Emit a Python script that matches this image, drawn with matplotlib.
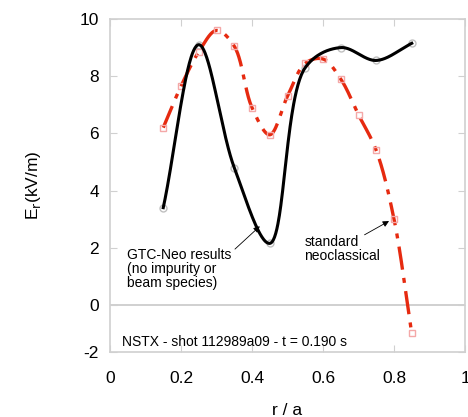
import numpy as np
import matplotlib
matplotlib.use("Agg")
import matplotlib.pyplot as plt

plt.rcParams['font.family'] = ['Liberation Sans', 'DejaVu Sans']

# Data
gtc_r = [0.15, 0.25, 0.35, 0.45, 0.55, 0.65, 0.75, 0.85]
gtc_er = [3.4, 9.1, 4.8, 2.15, 8.3, 9.0, 8.55, 9.15]
neo_r = [0.15, 0.20, 0.25, 0.30, 0.35, 0.40, 0.45, 0.50, 0.55, 0.60, 0.65, 0.70, 0.75, 0.80, 0.85]
neo_er = [6.2, 7.65, 8.85, 9.6, 9.05, 6.9, 5.95, 7.3, 8.45, 8.6, 7.9, 6.65, 5.4, 3.0, -1.0]
yticks = [-1.65, 0, 2, 4, 6, 8, 10]
ytick_labels = ['-2', '0', '2', '4', '6', '8', '10']
xticks = [0, 0.2, 0.4, 0.6, 0.8, 1.0]
xtick_labels = ['0', '0.2', '0.4', '0.6', '0.8', '1']


def smooth_path(x, y, sx=360.0, sy=28.5, n=60, alpha=0.5):
    # centripetal Catmull-Rom through the data points, in screen-like units
    P = np.column_stack([np.asarray(x, float) * sx, np.asarray(y, float) * sy])
    P = np.vstack([2 * P[0] - P[1], P, 2 * P[-1] - P[-2]])
    out = []
    for i in range(1, len(P) - 2):
        p0, p1, p2, p3 = P[i - 1], P[i], P[i + 1], P[i + 2]
        t0 = 0.0
        t1 = t0 + np.linalg.norm(p1 - p0) ** alpha
        t2 = t1 + np.linalg.norm(p2 - p1) ** alpha
        t3 = t2 + np.linalg.norm(p3 - p2) ** alpha
        t = np.linspace(t1, t2, n)[:, None]
        a1 = (t1 - t) / (t1 - t0) * p0 + (t - t0) / (t1 - t0) * p1
        a2 = (t2 - t) / (t2 - t1) * p1 + (t - t1) / (t2 - t1) * p2
        a3 = (t3 - t) / (t3 - t2) * p2 + (t - t2) / (t3 - t2) * p3
        b1 = (t2 - t) / (t2 - t0) * a1 + (t - t0) / (t2 - t0) * a2
        b2 = (t3 - t) / (t3 - t1) * a2 + (t - t1) / (t3 - t1) * a3
        c = (t2 - t) / (t2 - t1) * b1 + (t - t1) / (t2 - t1) * b2
        out.append(c if i == 1 else c[1:])
    C = np.vstack(out)
    return C[:, 0] / sx, C[:, 1] / sy


fig = plt.figure(figsize=(4.68, 4.17), dpi=100)
ax = fig.add_axes([110 / 468, 1 - 352 / 417, (465 - 110) / 468, (352 - 19) / 417])
ax.set_xlim(0, 0.987)
ax.set_ylim(-1.65, 10)

ax.axhline(0, color='#c8c8c8', lw=1.2, zorder=1)

red = '#e62a10'
xs, ys = smooth_path(neo_r, neo_er)
ax.plot(xs, ys, color=red, lw=2.4, dashes=(7, 2.5, 1.5, 2.5), zorder=3)
ax.plot(neo_r, neo_er, ls='none', marker='s', ms=5, mfc='none', mec='#f4a8a8', mew=1, zorder=4)

xs, ys = smooth_path(gtc_r, gtc_er)
ax.plot(xs, ys, color='black', lw=2.2, zorder=5)
ax.plot(gtc_r, gtc_er, ls='none', marker='o', ms=5, mfc='none', mec='#c0c0c0', mew=1, zorder=2)

for s in ax.spines.values():
    s.set_color('#d0d0d0')
    s.set_linewidth(1.2)
ax.set_xticks(xticks)
ax.set_xticklabels(xtick_labels)
ax.set_yticks(yticks)
ax.set_yticklabels(ytick_labels)
ax.tick_params(direction='in', length=5, color='#d0d0d0', labelsize=12.5,
               top=True, right=True)
ax.tick_params(axis='x', pad=14)
ax.tick_params(axis='y', pad=8)
ax.set_xlabel('r / a', fontsize=12.5, labelpad=12)
ax.set_ylabel(r'E$_\mathrm{r}$(kV/m)', fontsize=12.5, labelpad=26)

ax.text(0.047, 2.0, 'GTC-Neo results\n(no impurity or\nbeam species)', fontsize=10,
        va='top', ha='left', linespacing=1.0)
ax.annotate('', xy=(0.422, 2.75), xytext=(0.352, 1.95),
            arrowprops=dict(arrowstyle='-|>', color='black', lw=0.6, mutation_scale=9,
                            shrinkA=0, shrinkB=0))
ax.text(0.548, 2.45, 'standard\nneoclassical', fontsize=10, va='top', ha='left',
        linespacing=1.0)
ax.annotate('', xy=(0.786, 2.93), xytext=(0.717, 2.45),
            arrowprops=dict(arrowstyle='-|>', color='black', lw=0.6, mutation_scale=9,
                            shrinkA=0, shrinkB=0))
ax.text(0.035, -1.3, 'NSTX - shot 112989a09 - t = 0.190 s', fontsize=10, va='center', ha='left')

fig.savefig('out.png', dpi=100)
